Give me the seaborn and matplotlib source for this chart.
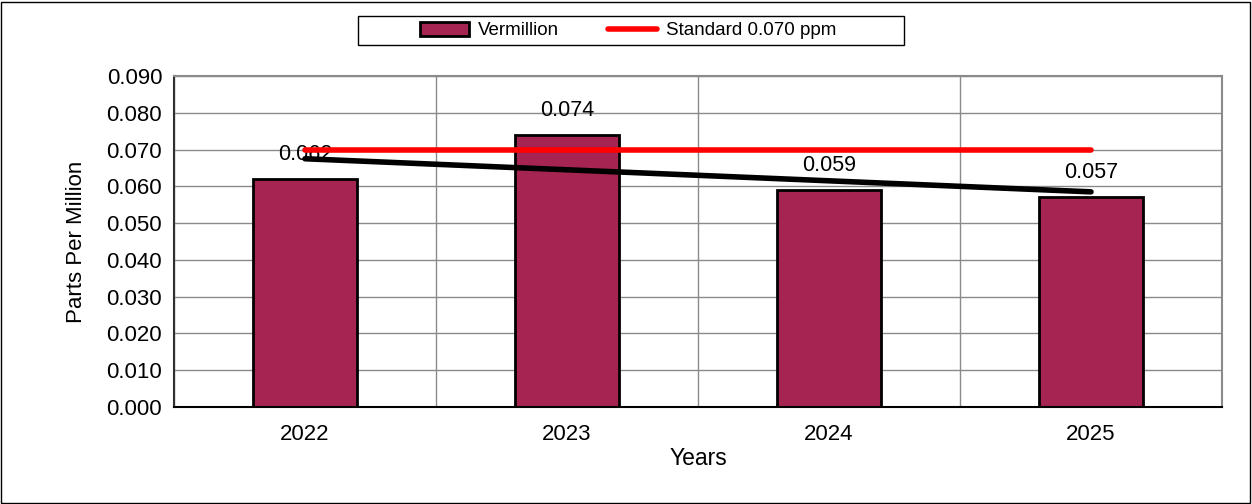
import numpy as np
import pandas as pd
import matplotlib.pyplot as plt
import seaborn as sns
from matplotlib.patches import Rectangle, Patch
from matplotlib.lines import Line2D

# ==============================
# DATA
# ==============================
years = ["2022", "2023", "2024", "2025"]
ppm = [0.062, 0.074, 0.059, 0.057]
standard = 0.070
series_name = "Vermillion"
standard_label = "Standard 0.070 ppm"
y_ticks = [0.000, 0.010, 0.020, 0.030, 0.040, 0.050, 0.060, 0.070, 0.080, 0.090]

bar_color = "#A62451"
grid_color = "#8a8a8a"

sns.set_style("white")
plt.rcParams["font.family"] = ["Liberation Sans", "DejaVu Sans"]
plt.rcParams["text.color"] = "black"
plt.rcParams["axes.labelcolor"] = "black"
plt.rcParams["xtick.color"] = "black"
plt.rcParams["ytick.color"] = "black"

df = pd.DataFrame({"Year": years, "PPM": ppm})
pos = np.arange(len(years))

fig, ax = plt.subplots(figsize=(12.52, 5.04), dpi=100)
fig.subplots_adjust(left=174 / 1252, right=1222 / 1252, top=1 - 76 / 504, bottom=1 - 407 / 504)

# bars
sns.barplot(
    data=df, x="Year", y="PPM", color=bar_color, saturation=1,
    edgecolor="black", linewidth=2, width=0.4, ax=ax, zorder=2
)

ax.bar_label(ax.containers[0], labels=[f"{v:.3f}" for v in ppm],
             padding=10, fontsize=15.5, zorder=3)

# linear trend
sns.regplot(x=pos, y=np.array(ppm), ci=None, scatter=False, ax=ax,
            line_kws=dict(color="black", lw=4, solid_capstyle="round", zorder=5))

# standard line
sns.lineplot(x=pos, y=[standard] * len(years), color="red", lw=4, ax=ax, zorder=6)

ax.set_xlim(-0.5, len(years) - 0.5)
ax.set_ylim(0, 0.09)
ax.set_yticks(y_ticks)
ax.set_yticklabels([f"{t:.3f}" for t in y_ticks])
ax.set_xticks(pos)
ax.set_xticklabels(years)

# gridlines
ax.set_xticks(np.arange(-0.5, len(years)), minor=True)
ax.grid(axis="y", which="major", color=grid_color, lw=1)
ax.grid(axis="x", which="minor", color=grid_color, lw=1)
ax.set_axisbelow(True)

ax.tick_params(axis="x", which="major", length=0, labelsize=16, pad=12)
ax.tick_params(axis="x", which="minor", length=8, width=1, direction="out")
ax.tick_params(axis="y", length=9, width=1, direction="inout", labelsize=16, pad=4)

for side in ["top", "right"]:
    ax.spines[side].set_color(grid_color)
    ax.spines[side].set_linewidth(1.5)
ax.spines["left"].set_color("#303030")
ax.spines["left"].set_linewidth(1.5)
ax.spines["bottom"].set_color("black")
ax.spines["bottom"].set_linewidth(1.5)

ax.set_xlabel("Years", fontsize=16.5, labelpad=2)
ax.set_ylabel("Parts Per Million", fontsize=16, labelpad=14)

# legend
handles = [
    Patch(facecolor=bar_color, edgecolor="black", linewidth=2, label=series_name),
    Line2D([], [], color="red", lw=4, label=standard_label),
]
fig.legend(handles=handles, loc="center", bbox_to_anchor=(628 / 1252, 1 - 30.5 / 504),
           ncol=2, frameon=False, fontsize=13.5, handlelength=2.6, handleheight=0.8,
           handletextpad=0.5, columnspacing=2.6)
fig.patches.append(Rectangle((358 / 1252, 1 - 45 / 504), 546 / 1252, 29 / 504,
                             transform=fig.transFigure, fill=False,
                             edgecolor="black", lw=1))

# outer border
fig.patches.append(Rectangle((1 / 1252, 1 / 504), 1249 / 1252, 501 / 504,
                             transform=fig.transFigure, fill=False,
                             edgecolor="black", lw=1))

fig.savefig("out.png", dpi=100)
